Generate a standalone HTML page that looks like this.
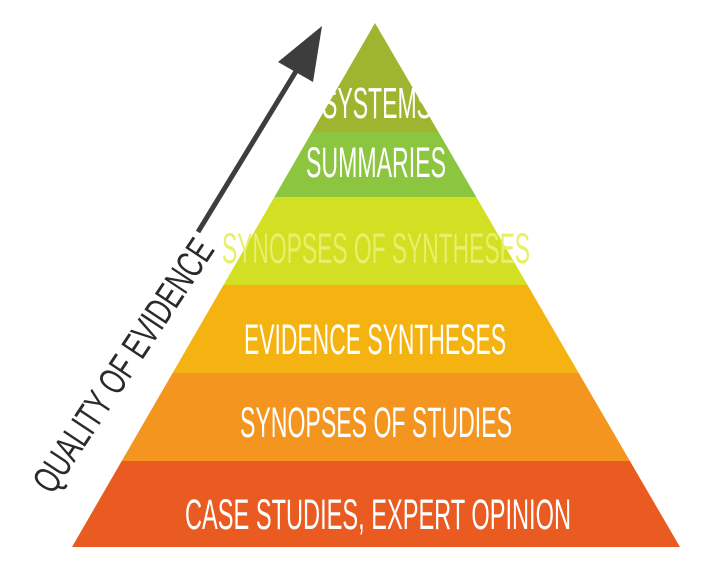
<!DOCTYPE html>
<html><head><meta charset="utf-8"><style>html,body{margin:0;padding:0;background:#fff}svg{display:block}</style></head>
<body>
<svg width="701" height="583" viewBox="0 0 701 583" xmlns="http://www.w3.org/2000/svg">
<defs><clipPath id="p"><polygon points="375,23 680,547 72,547"/></clipPath></defs>
<g clip-path="url(#p)">
<rect x="0" y="0" width="701" height="132" fill="#9fb530"/>
<rect x="0" y="132" width="701" height="65" fill="#8cc540"/>
<rect x="0" y="197" width="701" height="88" fill="#d3df22"/>
<rect x="0" y="285" width="701" height="88" fill="#f5b311"/>
<rect x="0" y="373" width="701" height="88" fill="#f3951f"/>
<rect x="0" y="461" width="701" height="86" fill="#e95b20"/>
</g>
<g font-family="Liberation Sans, sans-serif" fill="#fff" text-anchor="start" font-weight="normal">
<text x="322" y="118" font-size="44" textLength="110" lengthAdjust="spacingAndGlyphs">SYSTEMS</text>
<text x="306" y="177" font-size="43" textLength="140" lengthAdjust="spacingAndGlyphs">SUMMARIES</text>
<text x="222" y="263" font-size="43" textLength="308" lengthAdjust="spacingAndGlyphs" fill="#e8f06a">SYNOPSES OF SYNTHESES</text>
<text x="244" y="354" font-size="43" textLength="262" lengthAdjust="spacingAndGlyphs">EVIDENCE SYNTHESES</text>
<text x="240" y="437" font-size="43" textLength="272" lengthAdjust="spacingAndGlyphs">SYNOPSES OF STUDIES</text>
<text x="185" y="529" font-size="43" textLength="386" lengthAdjust="spacingAndGlyphs">CASE STUDIES, EXPERT OPINION</text>
</g>
<line x1="198" y1="232" x2="298" y2="68" stroke="#3d3d3d" stroke-width="5"/>
<polygon points="322,26 278,62 313,82" fill="#3d3d3d"/>
<text transform="translate(124,366) rotate(-56.5)" x="0" y="12" text-anchor="middle" font-family="Liberation Sans, sans-serif" font-size="38" fill="#2a2a2a" textLength="295" lengthAdjust="spacingAndGlyphs">QUALITY OF EVIDENCE</text>
</svg>
</body></html>
